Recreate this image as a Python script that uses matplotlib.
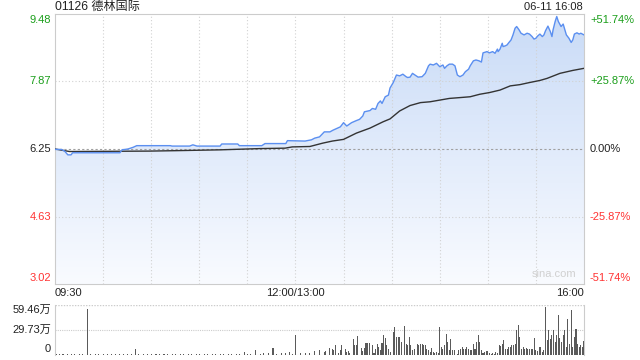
import numpy as np
import matplotlib
matplotlib.use("Agg")
import matplotlib.pyplot as plt
from matplotlib.colors import LinearSegmentedColormap

plt.rcParams['font.family'] = ['Liberation Sans', 'Noto Sans CJK SC']

title = "01126 德林国际"
stamp = "06-11 16:08"
prev_close = 6.25

# price line (minutes since 09:30, lunch removed)
price_t = [0, 4, 6, 8, 10, 11, 20, 30, 40.5, 41.8, 45.5, 48.7, 51, 59, 72, 73, 84, 86, 88.6, 103,
           104, 114, 115, 129, 131, 144, 145, 156, 160, 162, 165, 168, 171.5, 173.4, 178, 180, 182,
           185, 188, 190, 192, 193, 196.5, 198, 200, 201.5, 203, 204, 206, 208, 209, 211, 213, 215,
           217, 219, 220, 221.5, 223, 224.6, 226.5, 229, 231, 233, 234, 236, 238, 240, 242, 243,
           244.5, 246, 248, 249.5, 251, 252.6, 254.5, 256, 258, 259, 261, 262.6, 264.5, 266, 267,
           269.5, 271, 273, 274.5, 276, 276.4, 277.6, 279, 279.5, 281, 282, 283, 284.5, 285.7, 287,
           288, 289.5, 290.7, 292.6, 294.5, 296, 297.6, 298.8, 300, 301, 302.5, 304, 305, 306, 307.5,
           309, 310, 310.7, 312, 313, 314, 315.7, 317, 318, 319, 320.6, 322, 323, 324, 325.6, 327,
           328, 330]
price_v = [6.24, 6.24, 6.20, 6.11, 6.11, 6.16, 6.16, 6.16, 6.16, 6.23, 6.25, 6.29, 6.33, 6.33, 6.33,
           6.32, 6.32, 6.35, 6.32, 6.32, 6.37, 6.37, 6.33, 6.33, 6.38, 6.38, 6.45, 6.44, 6.47, 6.51,
           6.54, 6.66, 6.66, 6.70, 6.78, 6.88, 6.80, 6.88, 6.93, 6.96, 7.04, 7.14, 7.17, 7.22, 7.20,
           7.34, 7.40, 7.34, 7.50, 7.54, 7.71, 7.84, 8.02, 8.00, 8.04, 7.98, 7.96, 7.97, 8.06, 8.02,
           7.97, 7.98, 8.06, 8.24, 8.28, 8.26, 8.30, 8.22, 8.26, 8.18, 8.24, 8.28, 8.28, 8.24, 8.02,
           7.98, 8.02, 8.10, 8.16, 8.24, 8.36, 8.38, 8.36, 8.33, 8.55, 8.58, 8.55, 8.58, 8.54, 8.64,
           8.58, 8.64, 8.78, 8.70, 8.72, 8.74, 8.79, 8.86, 8.98, 9.14, 9.18, 9.10, 9.02, 8.98, 9.02,
           9.00, 8.94, 8.88, 8.90, 8.95, 9.00, 8.94, 8.98, 9.08, 9.19, 9.06, 8.94, 9.10, 9.30, 9.42,
           9.30, 9.18, 9.24, 9.11, 8.98, 8.90, 8.80, 8.86, 9.00, 9.03, 9.00, 9.02, 8.98]

# average price line
avg_t = [0, 9, 59, 75, 103, 128, 143.5, 148, 159, 167, 173, 180, 188, 196.5, 204.6, 209, 215,
         221.5, 228, 234, 240, 246, 252.6, 259, 265, 271, 277.6, 284, 290, 296, 302.5, 307, 315,
         323, 330]
avg_v = [6.25, 6.19, 6.20, 6.21, 6.23, 6.26, 6.27, 6.30, 6.31, 6.39, 6.44, 6.48, 6.63, 6.75, 6.90,
         6.97, 7.16, 7.29, 7.36, 7.38, 7.42, 7.46, 7.48, 7.50, 7.56, 7.60, 7.66, 7.76, 7.79, 7.84,
         7.89, 7.94, 8.06, 8.13, 8.18]

# volume (万股) by minute
vol_t = [1, 3, 5, 8, 10, 12, 15, 17, 20, 22, 25, 27, 30, 33, 35, 38, 40, 43, 45, 48, 50, 52, 55,
         58, 60, 63, 65, 68, 70, 73, 75, 78, 80, 83, 85, 88, 90, 93, 95, 98, 100, 103, 105, 108,
         110, 113, 115, 118, 120, 122, 125, 128, 130, 133, 136, 138, 141, 144, 146, 148, 150, 153,
         156, 159, 162,
         165, 168, 169, 171, 173, 174, 175, 177, 178, 179, 181, 182, 183, 184, 186, 187, 188, 189,
         191, 192, 193, 194, 195, 196, 198, 199, 200, 201, 202, 203, 204, 205, 206, 207, 208, 209,
         211, 212, 213, 214, 215, 216, 218, 219, 220, 221, 222, 223, 224, 226, 227, 228, 229, 230,
         231, 232, 233, 234, 235, 236, 237, 238, 239, 240, 241, 242, 243, 244, 245, 246, 247, 248,
         249, 251, 252, 253, 254, 255, 256, 257, 258, 259, 260, 261, 262, 263, 264, 265, 266, 267,
         268, 269, 270, 271, 272, 273, 274, 275, 276, 277, 278, 279, 280, 281, 282, 283, 284, 285,
         286, 287, 288, 289, 290, 291, 292, 293, 294, 295, 296, 297, 298, 299, 300, 301, 302, 303,
         304, 305, 306, 307, 308, 309, 310, 311, 312, 313, 314, 315, 316, 317, 318, 319, 320, 321,
         322, 323, 324, 325, 326, 327, 328, 329, 330]
vol_v = [1.2, 0.8, 1.0, 1.2, 0.8, 1.0, 1.2, 0.8, 54.6, 1.0, 0.8, 1.2, 1.0, 0.8, 1.2, 1.0, 0.8,
         1.0, 1.2, 0.8, 6.6, 1.2, 1.0, 0.8, 1.2, 1.0, 0.8, 1.2, 1.0, 0.8, 1.2, 1.0, 0.8, 1.2, 1.0,
         0.8, 1.2, 1.0, 0.8, 1.2, 1.0, 0.8, 1.2, 1.0, 0.8, 1.2, 1.0, 3.6, 1.2, 1.0, 5.4, 1.2, 2.0,
         1.5, 8.4, 1.2, 2.0, 1.5, 3.6, 1.2, 23.4, 2.0, 1.5, 2.4, 4.8,
         5.2, 3.2, 4.0, 8.0, 7.2, 5.2, 12.0, 2.4, 5.2, 11.2, 7.2, 3.2, 4.0, 2.4, 19.2, 12.0, 12.0,
         22.4, 8.0, 4.0, 8.0, 14.4, 14.4, 14.4, 12.0, 2.4, 7.2, 13.2, 9.2, 5.2, 14.4, 23.2, 20.0,
         11.2, 7.2, 3.2, 27.2, 33.2, 21.2, 21.2, 21.2, 15.2, 34.4, 13.2, 11.2, 21.2, 11.2, 5.2, 7.2,
         13.2, 11.2, 13.2, 13.2, 11.2, 11.2, 7.2, 5.2, 3.2, 8.0, 3.2, 2.4, 3.2, 2.4, 33.2, 9.2, 7.2,
         11.2, 25.2, 15.2, 5.2, 19.2, 5.2, 5.2, 1.2, 5.2, 7.2, 9.2, 7.2, 7.2, 9.2, 7.2, 5.2, 5.2,
         13.2, 7.2, 15.2, 24.0, 15.2, 5.2, 2.4, 3.2, 4.0, 4.0, 2.4, 1.2, 2.4, 1.2, 3.2, 2.4, 11.2,
         10.4, 13.2, 17.2, 6.4, 7.2, 9.2, 9.2, 11.2, 11.2, 13.2, 29.2, 35.2, 21.2, 7.2, 9.2, 7.2,
         8.0, 7.2, 7.2, 6.4, 7.2, 20.0, 5.2, 4.0, 9.2, 9.2, 3.2, 5.2, 57.2, 17.2, 29.2, 19.2, 23.2,
         29.2, 15.2, 23.2, 48.0, 20.0, 15.2, 24.0, 29.2, 9.2, 43.2, 13.2, 53.2, 9.2, 21.2, 31.2,
         13.2, 9.2, 11.2, 9.2, 16.0]

price_ticks = [9.48, 7.87, 6.25, 4.63, 3.02]
pct_labels = ['+51.74%', '+25.87%', '0.00%', '-25.87%', '-51.74%']
tick_colors = ['#1a9e1a', '#1a9e1a', '#222222', '#ff3333', '#ff3333']
vol_ticks = [59.46, 29.73, 0]
vol_labels = ['59.46万', '29.73万', '0']
time_labels = ['09:30', '12:00/13:00', '16:00']
time_pos = [0, 150, 330]

W, H = 640, 360
fig = plt.figure(figsize=(6.4, 3.6), dpi=100)
ax = fig.add_axes([55 / W, 1 - 284 / H, 529 / W, 270 / H])
axv = fig.add_axes([55 / W, 1 - 354.5 / H, 529 / W, 49.5 / H])

ymin, ymax = price_ticks[-1], price_ticks[0]
ax.set_xlim(0, 330)
ax.set_ylim(ymin, ymax)

# gradient fill under price line
cmap = LinearSegmentedColormap.from_list('g', ['#f9fbff', '#c9dbf7'])
grad = np.linspace(0, 1, 256).reshape(-1, 1)
im = ax.imshow(grad, extent=[0, 330, ymin, ymax], origin='lower', aspect='auto',
               cmap=cmap, zorder=1)
poly = ax.fill_between(price_t, price_v, ymin, color='none', lw=0)
im.set_clip_path(poly.get_paths()[0], transform=ax.transData)

# grid
for x in range(30, 330, 30):
    ax.axvline(x, color='#d2d2d2', lw=0.8, ls=(0, (1, 2)), zorder=2)
for y in [price_ticks[1], price_ticks[3]]:
    ax.axhline(y, color='#d2d2d2', lw=0.8, ls=(0, (1, 2)), zorder=2)
ax.axhline(prev_close, color='#a0a0a0', lw=0.8, ls=(0, (2, 2)), zorder=2)

ax.plot(avg_t, avg_v, color='#333333', lw=1.0, zorder=3)
ax.plot(price_t, price_v, color='#5b8ff0', lw=1.0, zorder=4)

for s in ax.spines.values():
    s.set_color('#cccccc')
ax.set_xticks([])
ax.set_yticks([])

# price labels
offs = [-6, 0, 0, 0, 6]
for p, c, o, pl in zip(price_ticks, tick_colors, offs, pct_labels):
    ax.annotate(f"{p:.2f}", xy=(0, p), xycoords=('axes fraction', 'data'),
                xytext=(-4, o), textcoords='offset pixels', ha='right', va='center',
                fontsize=8, color=c)
    ax.annotate(pl, xy=(1, p), xycoords=('axes fraction', 'data'),
                xytext=(6, o), textcoords='offset pixels', ha='left', va='center',
                fontsize=8, color=c)

# time labels
has = ['left', 'center', 'right']
for tp, tl, ha in zip(time_pos, time_labels, has):
    ax.annotate(tl, xy=(tp, 0), xycoords=('data', 'axes fraction'), xytext=(0, -9),
                textcoords='offset pixels', ha=ha, va='center', fontsize=8, color='#222222')

fig.text(55 / W, 1 - 7 / H, title, ha='left', va='center', fontsize=8.7, color='#222222')
fig.text(583 / W, 1 - 7 / H, stamp, ha='right', va='center', fontsize=8, color='#222222')
ax.text(0.985, 0.02, 'sina.com', transform=ax.transAxes, ha='right', va='bottom',
        fontsize=8, color='#d0d0d0', zorder=5)

# volume panel
axv.set_xlim(0, 330)
axv.set_ylim(0, vol_ticks[0])
axv.bar(vol_t, vol_v, width=0.65, color='#5a5a5a', zorder=3, antialiased=False)
axv.axhline(vol_ticks[1], color='#cccccc', lw=0.8, ls=(0, (1, 1)), zorder=1)
axv.axhline(vol_ticks[0], color='#cccccc', lw=1.0, ls=(0, (1, 1)), zorder=1)
axv.axhline(0, color='#bbbbbb', lw=0.8, ls=(0, (1, 1)), zorder=1)
axv.spines['top'].set_visible(False)
axv.spines['bottom'].set_visible(False)
axv.spines['left'].set_color('#cccccc')
axv.spines['right'].set_color('#cccccc')
axv.set_xticks([])
axv.set_yticks([])
voffs = [-5, 0, 6]
for v, lab, o in zip(vol_ticks, vol_labels, voffs):
    axv.annotate(lab, xy=(0, v), xycoords=('axes fraction', 'data'), xytext=(-4, o),
                 textcoords='offset pixels', ha='right', va='center', fontsize=8,
                 color='#222222')

fig.savefig('out.png', dpi=100)
